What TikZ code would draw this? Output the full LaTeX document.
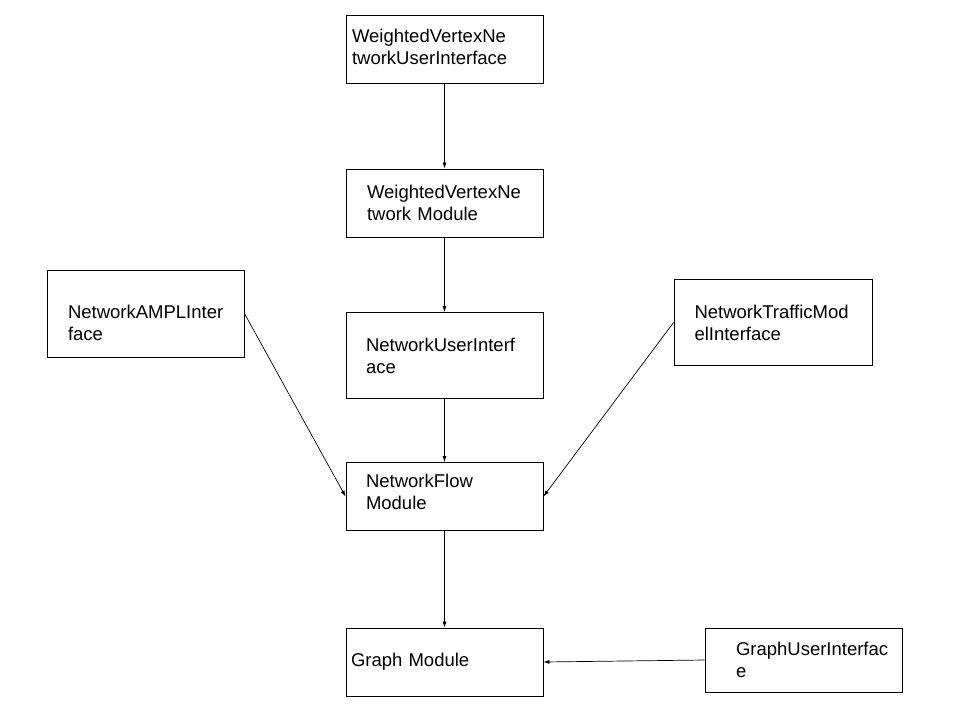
\documentclass[tikz,border=0pt]{standalone}
\usepackage{fontspec}
\setmainfont{Liberation Sans}
\usetikzlibrary{arrows.meta}
\hyphenpenalty=10000
\exhyphenpenalty=10000

\begin{document}
\begin{tikzpicture}[x=1pt, y=-1pt,
  box/.style={draw, line width=0.9pt, align=left, inner sep=0pt,
    minimum width=197pt, minimum height=68pt, font=\fontsize{18.5}{22}\selectfont},
  link/.style={-{Latex[length=6pt, width=4pt]}, line width=0.7pt}]
\useasboundingbox (0,0) rectangle (960,720);
% middle column
\node[box, text width=185pt, text depth=27pt] (wvnui) at (444.5,49) {WeightedVertexNe\\tworkUserInterface};
\node[box, text width=155pt] (wvn) at (444.5,203) {WeightedVertexNe\\twork Module};
\node[box, text width=157pt, minimum height=86pt] (nui) at (444.5,355.5) {NetworkUserInterf\\ace};
\node[box, text width=157pt, text depth=32pt] (flow) at (444.5,496.5) {NetworkFlow\\Module};
\node[box, text width=187pt] (graph) at (444.5,662) {Graph Module};
% side boxes
\node[box, text width=155pt, minimum height=87pt, text height=33pt] (ampl) at (145.5,313.5) {NetworkAMPLInter\\face};
\node[box, text width=157pt, minimum height=86pt, minimum width=198pt] (traffic) at (773,322.5) {NetworkTrafficMod\\elInterface};
\node[box, text width=135pt, minimum height=64pt] (gui) at (803.5,660) {GraphUserInterfac\\e};
% links
\draw[link] (wvnui) -- (wvn);
\draw[link] (wvn) -- (nui);
\draw[link] (nui) -- (flow);
\draw[link] (flow) -- (graph);
\draw[link] (ampl.east) -- (flow.west);
\draw[link] (traffic.west) -- (flow.east);
\draw[link] (gui.west) -- (graph.east);
\end{tikzpicture}
\end{document}
